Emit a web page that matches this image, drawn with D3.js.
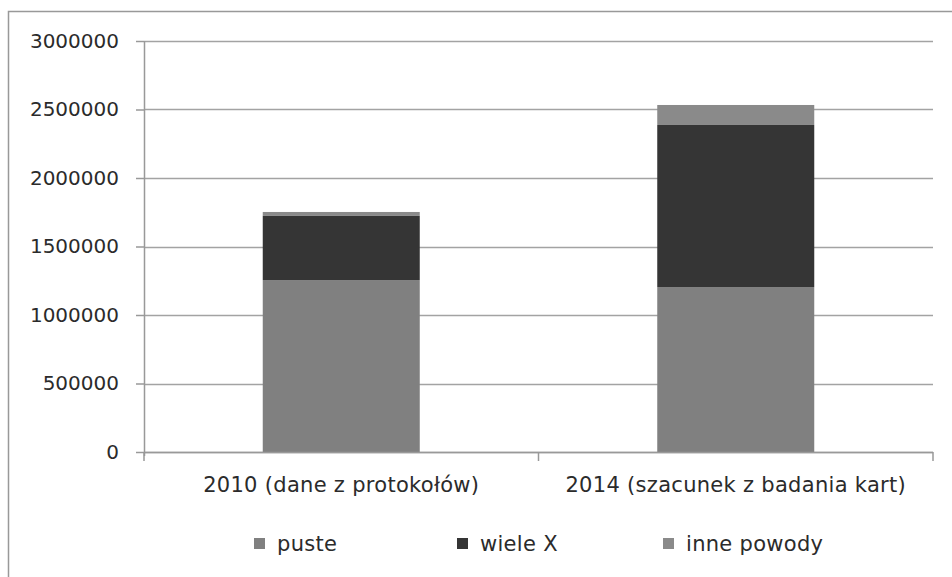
<!DOCTYPE html>
<html>
<head>
<meta charset="utf-8">
<script src="https://cdn.jsdelivr.net/npm/d3@7"></script>
<style>
  body { margin: 0; background: #fff; }
  text { font-family: "DejaVu Sans", sans-serif; fill: #2b2b2b; }
</style>
</head>
<body>
<script>
// categories and series values
const categories = ["2010 (dane z protokołów)", "2014 (szacunek z badania kart)"];
const seriesNames = ["puste", "wiele X", "inne powody"];
const puste = [1255000, 1204000];
const wieleX = [468000, 1183000];
const innePowody = [29000, 146000];
const yTicks = [0, 500000, 1000000, 1500000, 2000000, 2500000, 3000000];

const colors = ["#808080", "#353535", "#8a8a8a"];

const W = 952, H = 577;
const margin = { top: 41, left: 144 },
    width = 933 - margin.left,
    height = 452 - margin.top;

const svg = d3.select("body")
    .append("svg")
    .attr("width", W)
    .attr("height", H);

// outer frame
svg.append("rect")
    .attr("x", 8.5).attr("y", 11.5)
    .attr("width", 960).attr("height", 600)
    .attr("fill", "none")
    .attr("stroke", "#999")
    .attr("stroke-width", 1.5);

const g = svg.append("g")
    .attr("transform", "translate(" + margin.left + "," + margin.top + ")");

// build stacked table
const table = categories.map((c, i) => ({
    cat: c, "puste": puste[i], "wiele X": wieleX[i], "inne powody": innePowody[i]
}));
const stack = d3.stack().keys(seriesNames)(table);

const x = d3.scaleBand()
    .domain(categories)
    .range([0, width])
    .paddingInner(0.602)
    .paddingOuter(0.301);

const y = d3.scaleLinear()
    .domain([0, 3000000])
    .range([height, 0]);

// gridlines
g.selectAll(".grid")
    .data(yTicks)
    .enter()
    .append("line")
    .attr("x1", 0).attr("x2", width)
    .attr("y1", d => Math.round(y(d)) + 0.5)
    .attr("y2", d => Math.round(y(d)) + 0.5)
    .attr("stroke", "#a3a3a3")
    .attr("stroke-width", 1.5);

// bars
g.selectAll(".layer")
    .data(stack)
    .enter()
    .append("g")
    .attr("fill", (d, i) => colors[i])
    .selectAll("rect")
    .data(d => d)
    .enter()
    .append("rect")
    .attr("x", d => x(d.data.cat))
    .attr("width", x.bandwidth())
    .attr("y", d => y(d[1]))
    .attr("height", d => y(d[0]) - y(d[1]));

// y axis
const yAxis = d3.axisLeft(y).tickValues(yTicks).tickFormat(d3.format("d")).tickSize(8).tickSizeOuter(0);
const ya = g.append("g").call(yAxis);
ya.select(".domain").attr("stroke", "#999").attr("stroke-width", 1.5).attr("d", "M0.5,0V" + (height + 4));
ya.selectAll(".tick line").attr("stroke", "#999").attr("stroke-width", 1.5);
ya.selectAll(".tick text")
    .attr("x", -25)
    .style("font-size", "20px")
    .style("font-family", "DejaVu Sans, sans-serif")
    .style("fill", "#2b2b2b");

// x axis
const xa = g.append("g").attr("transform", "translate(0," + height + ")");
xa.append("line")
    .attr("x1", 0).attr("x2", width)
    .attr("y1", 0.5).attr("y2", 0.5)
    .attr("stroke", "#999").attr("stroke-width", 1.5);
xa.selectAll(".xt")
    .data([0, width / 2, width])
    .enter()
    .append("line")
    .attr("x1", d => d).attr("x2", d => d)
    .attr("y1", 0).attr("y2", 9)
    .attr("stroke", "#999").attr("stroke-width", 1.5);
xa.selectAll(".xl")
    .data(categories)
    .enter()
    .append("text")
    .attr("x", d => x(d) + x.bandwidth() / 2)
    .attr("y", 40)
    .attr("text-anchor", "middle")
    .style("font-size", "21px")
    .style("letter-spacing", "0.3px")
    .text(d => d);

// legend
const legendX = [254, 457, 663];
const legend = svg.append("g").attr("id", "legend");
const items = legend.selectAll("g")
    .data(seriesNames)
    .enter()
    .append("g")
    .attr("transform", (d, i) => "translate(" + legendX[i] + ",538)");
items.append("rect")
    .attr("width", 11).attr("height", 11)
    .attr("fill", (d, i) => colors[i]);
items.append("text")
    .attr("x", 23)
    .attr("y", 13)
    .style("font-size", "21px")
    .style("letter-spacing", "0.3px")
    .text(d => d);
</script>
</body>
</html>
